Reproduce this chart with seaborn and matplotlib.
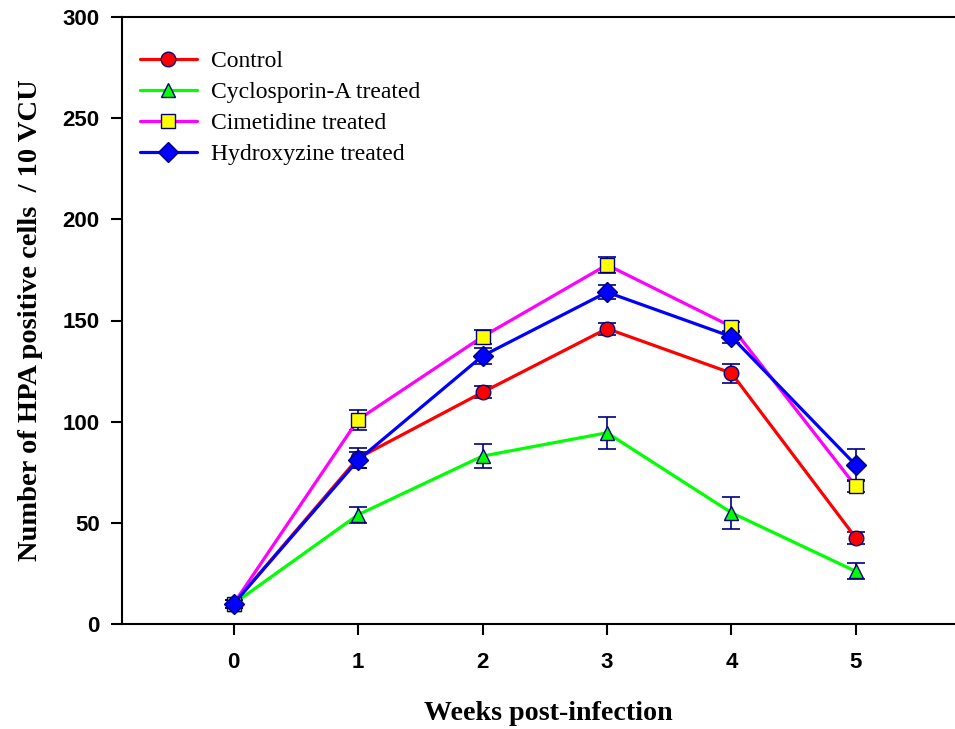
import matplotlib
matplotlib.use("Agg")
import matplotlib.pyplot as plt
import seaborn as sns
import numpy as np
import pandas as pd

weeks = [0, 1, 2, 3, 4, 5]
control = [10, 82, 114.5, 146, 124, 42.5]
control_err = [2, 5, 3, 3, 4.7, 3]
cyclosporin = [10, 54, 83, 94.5, 55, 26]
cyclosporin_err = [2, 4, 6, 8, 8, 4]
cimetidine = [10, 101, 142, 177.5, 147, 68]
cimetidine_err = [2, 5, 3.5, 4, 2.5, 3]
hydroxyzine = [10, 81, 132.5, 164, 142, 78.5]
hydroxyzine_err = [2, 4, 4, 3.5, 3, 8]

labels = ["Control", "Cyclosporin-A treated", "Cimetidine treated", "Hydroxyzine treated"]
line_colors = ["#FF0000", "#00FF00", "#FF00FF", "#0000FF"]
face_colors = ["#FF0000", "#00FF00", "#FFFF00", "#0000FF"]
markers = ["o", "^", "s", "D"]
series = [control, cyclosporin, cimetidine, hydroxyzine]
errors = [control_err, cyclosporin_err, cimetidine_err, hydroxyzine_err]
msizes = [10.5, 10.5, 10, 10.5]

sns.set_style("ticks")
fig = plt.figure(figsize=(9.55, 7.29), dpi=100)
ax = fig.add_axes([122/955, 1-624/729, 1.02 - 122/955, (624-17)/729])

navy = "#00007F"
for lab, vals, err, lc, fc, mk, ms in zip(labels, series, errors, line_colors, face_colors, markers, msizes):
    df = pd.DataFrame({"week": weeks, "value": vals})
    sns.lineplot(data=df, x="week", y="value", ax=ax, color=lc, linewidth=2.3,
                 marker=mk, markersize=ms, markerfacecolor=fc, markeredgecolor=navy,
                 markeredgewidth=1.0, label=lab, zorder=4)
    ax.errorbar(weeks, vals, yerr=err, fmt="none", ecolor=navy, elinewidth=1.2,
                capsize=6.5, capthick=1.2, zorder=3)

ax.set_xlim(-0.897, 5.95)
ax.set_ylim(0, 300)
ax.set_xticks(weeks)
ax.set_yticks([0, 50, 100, 150, 200, 250, 300])
for s in ["top", "bottom", "left", "right"]:
    ax.spines[s].set_visible(True)
    ax.spines[s].set_linewidth(1.5)
    ax.spines[s].set_color("black")
ax.tick_params(axis="both", direction="out", length=8, width=1.5, labelsize=16,
               colors="black")
ax.tick_params(axis="x", pad=12)
ax.tick_params(axis="y", pad=8)
for t in ax.get_xticklabels() + ax.get_yticklabels():
    t.set_fontfamily("Liberation Sans")
    t.set_fontweight("bold")
ax.tick_params(top=False, right=False)

ax.set_xlabel("Weeks post-infection", fontfamily="Liberation Serif", fontweight="bold",
              fontsize=20.2, labelpad=20, color="black")
ax.set_ylabel("Number of HPA positive cells  / 10 VCU", fontfamily="Liberation Serif",
              fontweight="bold", fontsize=20.5, labelpad=14, color="black")

leg = ax.legend(loc="upper left", bbox_to_anchor=(-0.004, 0.98), frameon=False,
                prop={"family": "Liberation Serif", "size": 17}, handlelength=2.4,
                labelspacing=0.4, handletextpad=0.6, labelcolor="black")

fig.savefig("out.png", dpi=100)
